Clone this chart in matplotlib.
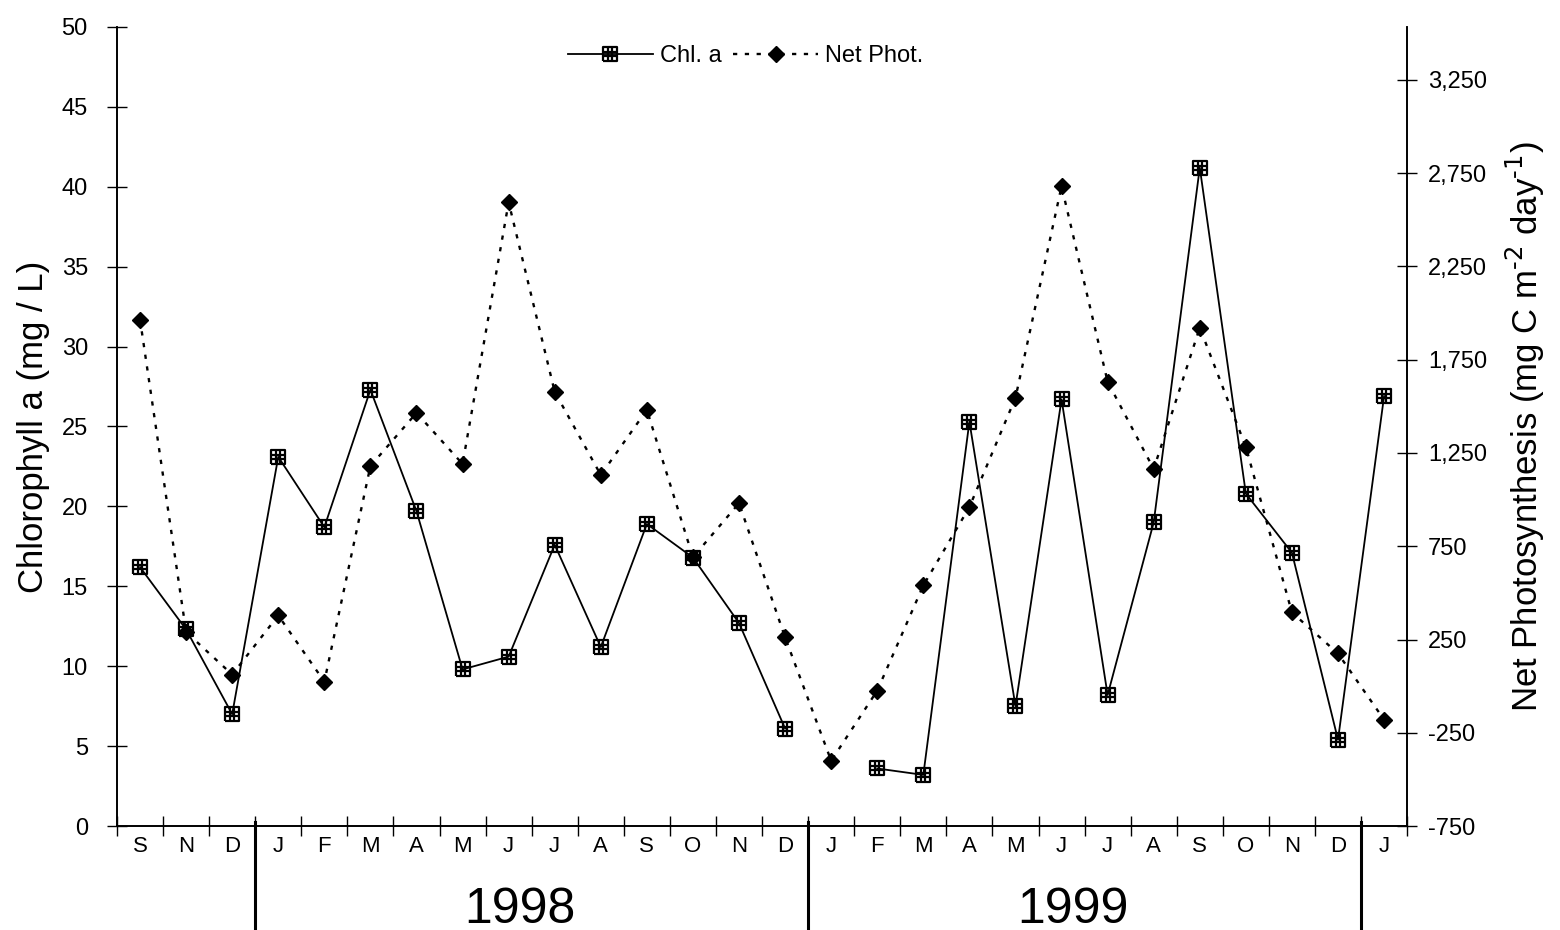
import matplotlib
matplotlib.use('Agg')
import matplotlib.pyplot as plt
import numpy as np
from matplotlib.path import Path
from matplotlib.ticker import FuncFormatter

plt.rcParams['font.family'] = ['Liberation Sans', 'DejaVu Sans']

# Data (Sep 1997 - Jan 2000, Oct 1997 missing)
Months = ['S', 'N', 'D', 'J', 'F', 'M', 'A', 'M', 'J', 'J', 'A', 'S', 'O', 'N', 'D',
          'J', 'F', 'M', 'A', 'M', 'J', 'J', 'A', 'S', 'O', 'N', 'D', 'J']
ChlA = [16.2, 12.3, 7.0, 23.1, 18.7, 27.3, 19.7, 9.8, 10.6, 17.6, 11.2, 18.9, 16.8, 12.7, 6.1,
        np.nan, 3.6, 3.2, 25.3, 7.5, 26.7, 8.2, 19.0, 41.2, 20.8, 17.1, 5.4, 26.9]
NetPhot = [1965, 290, 62, 379, 24, 1180, 1465, 1191, 2594, 1578, 1132, 1481, 691, 981, 261,
           -400, -24, 540, 960, 1546, 2680, 1632, 1164, 1922, 1282, 395, 175, -180]
Years = ['1998', '1999']
YearSpans = [(2.5, 14.5), (14.5, 26.5)]
Dividers = [2.5, 14.5, 26.5]

# "#" in a box marker
GridVerts = [(-1, -1), (1, -1), (1, 1), (-1, 1), (-1, -1),
             (-0.33, -1), (-0.33, 1), (0.33, -1), (0.33, 1),
             (-1, -0.33), (1, -0.33), (-1, 0.33), (1, 0.33)]
GridCodes = [Path.MOVETO, Path.LINETO, Path.LINETO, Path.LINETO, Path.LINETO,
             Path.MOVETO, Path.LINETO, Path.MOVETO, Path.LINETO,
             Path.MOVETO, Path.LINETO, Path.MOVETO, Path.LINETO]
GridMarker = Path(GridVerts, GridCodes)

fig = plt.figure(figsize=(15.6, 9.3), dpi=100)
ax = fig.add_axes([0.075, 0.1118, 0.827, 0.8592])
ax2 = ax.twinx()

x = np.arange(len(Months))
l1, = ax.plot(x, ChlA, color='black', lw=1.3, marker=GridMarker, markersize=10.5,
              markerfacecolor='none', markeredgecolor='black', markeredgewidth=1.6,
              label='Chl. a')
l2, = ax2.plot(x, NetPhot, color='black', lw=1.7, ls=(0, (1.8, 3.2)), marker='D', markersize=8.5,
               markerfacecolor='black', markeredgecolor='black', label='Net Phot.')

ax.set_xlim(-0.5, len(Months) - 0.5)
ax.set_ylim(0, 50)
ax.set_yticks(np.arange(0, 51, 5))
ax2.set_ylim(-750, 3534)
ax2.set_yticks(np.arange(-750, 3251, 500))
ax2.yaxis.set_major_formatter(FuncFormatter(lambda v, p: f'{v:,.0f}'))

ax.set_xticks(np.arange(-0.5, len(Months), 1.0))
ax.set_xticklabels([])
ax.set_xticks(x, minor=True)
ax.set_xticklabels(Months, minor=True)
ax.tick_params(axis='x', which='minor', length=0, pad=7, labelsize=16)
ax.tick_params(axis='x', which='major', direction='inout', length=14, width=1)
ax.tick_params(axis='y', direction='inout', length=14, width=1, labelsize=17, pad=14)
ax2.tick_params(axis='y', direction='inout', length=14, width=1, labelsize=17, pad=8)

for a in (ax, ax2):
    a.spines['top'].set_visible(False)
    for s in a.spines.values():
        s.set_linewidth(1.2)

ax.set_ylabel('Chlorophyll a (mg / L)', fontsize=25, labelpad=8)
ax2.set_ylabel(r'Net Photosynthesis (mg C m$^{\text{-}2}$ day$^{\text{-}1}$)', fontsize=25,
               labelpad=12)

# year dividers and labels below the month labels
trans = ax.get_xaxis_transform()
for d in Dividers:
    ax.plot([d, d], [0.005, -0.14], transform=trans, color='black', lw=2.2, clip_on=False)
for yr, (a0, a1) in zip(Years, YearSpans):
    ax.text((a0 + a1) / 2 - 0.25, -0.105, yr, transform=trans, ha='center', va='center',
            fontsize=36)

fig.legend(handles=[l1, l2], loc='center', bbox_to_anchor=(0.478, 0.94), ncol=2,
           frameon=False, fontsize=17, handlelength=3.6, columnspacing=0.5,
           handletextpad=0.3)

fig.savefig('out.png', dpi=100)
